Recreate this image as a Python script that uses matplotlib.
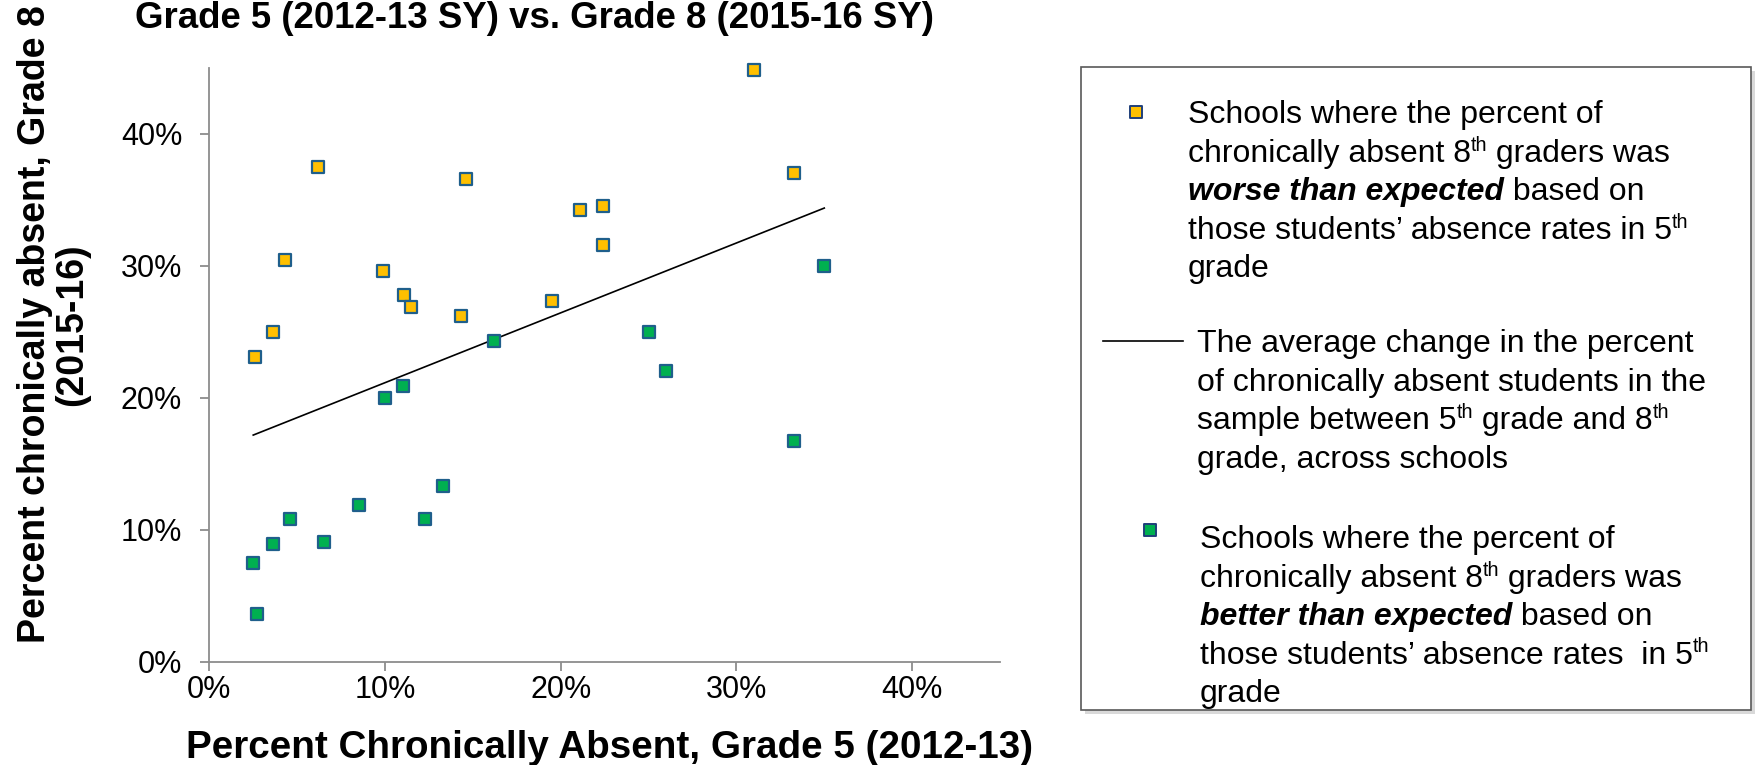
import numpy as np
import matplotlib
matplotlib.use("Agg")
import matplotlib.pyplot as plt
from matplotlib.ticker import FuncFormatter, MultipleLocator
from matplotlib.patches import Rectangle
from matplotlib.font_manager import FontProperties

plt.rcParams['font.family'] = ['Liberation Sans', 'DejaVu Sans']

# ---------------- data (percent) ----------------
worse_x = [31.0, 6.2, 14.6, 33.3, 21.1, 22.4, 22.4, 4.3, 9.9, 11.1, 11.5, 19.5, 14.3, 3.6, 2.6]
worse_y = [44.8, 37.5, 36.6, 37.0, 34.2, 34.5, 31.6, 30.4, 29.6, 27.8, 26.9, 27.3, 26.2, 25.0, 23.1]
better_x = [35.0, 25.0, 16.2, 26.0, 11.0, 10.0, 33.3, 13.3, 8.5, 4.6, 12.3, 6.5, 3.6, 2.5, 2.7]
better_y = [30.0, 25.0, 24.3, 22.0, 20.9, 20.0, 16.7, 13.3, 11.9, 10.8, 10.8, 9.1, 8.9, 7.5, 3.6]

x_ticks = [0, 10, 20, 30, 40]
y_ticks = [0, 10, 20, 30, 40]

title = "Grade 5 (2012-13 SY) vs. Grade 8 (2015-16 SY)"
xlabel = "Percent Chronically Absent, Grade 5 (2012-13)"
ylabel_1 = "Percent chronically absent, Grade 8"
ylabel_2 = "(2015-16)"

ORANGE = "#FFC000"
GREEN = "#00B050"
EDGE = "#1F5F8B"
AXISC = "#8C8C8C"

W, H = 1756, 765
fig = plt.figure(figsize=(W / 100, H / 100), dpi=100)
ax = fig.add_axes([209.3 / W, 1 - 661.7 / H, (1000 - 209.3) / W, (661.7 - 67.7) / H])

# trend line: least squares fit over all schools
all_x = np.array(worse_x + better_x)
all_y = np.array(worse_y + better_y)
slope, intercept = np.polyfit(all_x, all_y, 1)
tx = np.array([all_x.min(), all_x.max()])
ax.plot(tx, slope * tx + intercept, color="black", lw=1.2, zorder=2)

ax.scatter(worse_x, worse_y, marker="s", s=80, facecolor=ORANGE, edgecolor=EDGE, linewidth=1.6, zorder=3, clip_on=False)
ax.scatter(better_x, better_y, marker="s", s=80, facecolor=GREEN, edgecolor=EDGE, linewidth=1.6, zorder=3, clip_on=False)

ax.set_xlim(0, 45)
ax.set_ylim(0, 45)
ax.set_xticks(x_ticks)
ax.set_yticks(y_ticks)
pct = FuncFormatter(lambda v, p: f"{v:.0f}%")
ax.xaxis.set_major_formatter(pct)
ax.yaxis.set_major_formatter(pct)
for s in ["top", "right"]:
    ax.spines[s].set_visible(False)
for s in ["left", "bottom"]:
    ax.spines[s].set_color(AXISC)
    ax.spines[s].set_linewidth(1.3)
ax.tick_params(axis="both", direction="out", length=6.5, width=1.3, color=AXISC, labelsize=22, labelcolor="black")
ax.tick_params(axis="x", pad=3)
ax.tick_params(axis="y", pad=13)

fig.text(535 / W, 1 - 28 / H, title, ha="center", va="baseline", fontsize=26.4, fontweight="bold")
fig.text(610 / W, 1 - 758 / H, xlabel, ha="center", va="baseline", fontsize=27.8, fontweight="bold")
fig.text(35 / W, 0.576, ylabel_1, rotation=90, ha="center", va="center", fontsize=27, fontweight="bold")
fig.text(72 / W, 0.576, ylabel_2, rotation=90, ha="center", va="center", fontsize=27, fontweight="bold")

# ---------------- legend panel (pixel coordinates) ----------------
lax = fig.add_axes([0, 0, 1, 1], zorder=5)
lax.set_xlim(0, W)
lax.set_ylim(H, 0)
lax.axis("off")
lax.patch.set_alpha(0)

bx0, by0, bx1, by1 = 1081, 67, 1751, 710
lax.add_patch(Rectangle((bx0 + 4, by0 + 4), bx1 - bx0, by1 - by0, facecolor="#D9D9D9", edgecolor="none", zorder=1))
lax.add_patch(Rectangle((bx0, by0), bx1 - bx0, by1 - by0, facecolor="white", edgecolor="#595959", lw=1.2, zorder=2))

renderer = fig.canvas.get_renderer()
LFS = 23


def fp(weight="normal", style="normal", size=LFS):
    return FontProperties(family=['Liberation Sans', 'DejaVu Sans'], weight=weight, style=style, size=size)


def seg_width(s, prop):
    w1, _, _ = renderer.get_text_width_height_descent("|" + s + "|", prop, ismath=False)
    w2, _, _ = renderer.get_text_width_height_descent("||", prop, ismath=False)
    return w1 - w2


def draw_line(x, y, segs):
    for s, kind in segs:
        if kind == "sup":
            prop = fp(size=LFS * 0.62)
            lax.text(x, y - 11, s, fontproperties=prop, ha="left", va="baseline", zorder=4)
        elif kind == "bi":
            prop = fp(weight="bold", style="italic")
            lax.text(x, y, s, fontproperties=prop, ha="left", va="baseline", zorder=4)
        else:
            prop = fp()
            lax.text(x, y, s, fontproperties=prop, ha="left", va="baseline", zorder=4)
        x += seg_width(s, prop)


block1 = [
    [("Schools where the percent of", "n")],
    [("chronically absent 8", "n"), ("th", "sup"), (" graders was", "n")],
    [("worse than expected", "bi"), (" based on", "n")],
    [("those students\u2019 absence rates in 5", "n"), ("th", "sup")],
    [("grade", "n")],
]
block2 = [
    [("The average change in the percent", "n")],
    [("of chronically absent students in the", "n")],
    [("sample between 5", "n"), ("th", "sup"), (" grade and 8", "n"), ("th", "sup")],
    [("grade, across schools", "n")],
]
block3 = [
    [("Schools where the percent of", "n")],
    [("chronically absent 8", "n"), ("th", "sup"), (" graders was", "n")],
    [("better than expected", "bi"), (" based on", "n")],
    [("those students\u2019 absence rates  in 5", "n"), ("th", "sup")],
    [("grade", "n")],
]

LS = 38.5
for i, line in enumerate(block1):
    draw_line(1188, 123 + i * LS, line)
for i, line in enumerate(block2):
    draw_line(1197, 352 + i * LS, line)
for i, line in enumerate(block3):
    draw_line(1200, 548 + i * LS, line)

lax.scatter([1136], [112], marker="s", s=70, facecolor=ORANGE, edgecolor="#1F3F7A", linewidth=1.4, zorder=4)
lax.scatter([1150], [530], marker="s", s=70, facecolor=GREEN, edgecolor="#1F3F7A", linewidth=1.4, zorder=4)
lax.plot([1103, 1183], [341, 341], color="black", lw=1.2, zorder=4)

fig.savefig("out.png", dpi=100)
